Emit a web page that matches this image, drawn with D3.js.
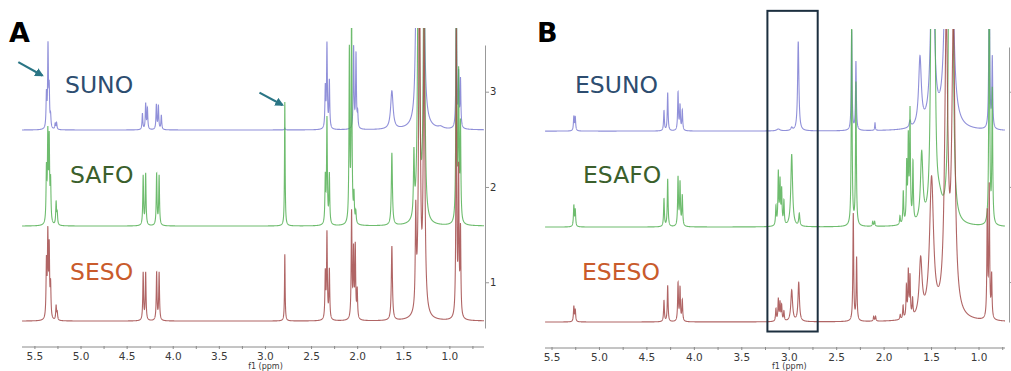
<!DOCTYPE html>
<html>
<head>
<meta charset="utf-8">
<script src="https://cdn.jsdelivr.net/npm/d3@7"></script>
<style>
  body { margin: 0; background: #fff; }
  text { font-family: "DejaVu Sans", sans-serif; }
</style>
</head>
<body>
<svg id="chart" width="1011" height="371"></svg>
<script>
// peak lists: [ppm, height (right-axis units), half width in ppm]
const SUNO = [
  [5.375, 0.35], [5.358, 0.85], [5.345, 0.38], [5.33, 0.12],
  [5.28, 0.06], [5.265, 0.07],
  [4.334, 0.17], [4.299, 0.27], [4.28, 0.22], [4.183, 0.26], [4.161, 0.25], [4.129, 0.15],
  [2.79, 0.02],
  [2.351, 0.42], [2.333, 0.88], [2.307, 0.5],
  [2.044, 0.86], [2.018, 0.78], [2.0, 0.15],
  [1.629, 0.4, 0.016],
  [1.37, 0.6, 0.01], [1.34, 4, 0.012], [1.29, 3, 0.012],
  [1.1, 0.02, 0.03],
  [0.93, 1.4], [0.905, 0.55], [0.885, 0.5]
];
const SAFO = [
  [5.375, 0.55], [5.36, 0.9], [5.345, 0.85], [5.33, 0.42],
  [5.27, 0.24], [5.258, 0.12],
  [4.326, 0.52], [4.299, 0.54], [4.18, 0.54], [4.153, 0.52],
  [2.79, 1.3, 0.004],
  [2.351, 0.48], [2.333, 1.1], [2.307, 0.52],
  [2.09, 1.8], [2.066, 2.3], [2.04, 0.28], [2.02, 0.12],
  [1.629, 0.76, 0.007],
  [1.39, 0.65, 0.006], [1.34, 4, 0.01], [1.28, 3, 0.01],
  [0.93, 3], [0.905, 1.5], [0.885, 1]
];
const SESO = [
  [5.375, 0.58], [5.36, 0.86], [5.345, 0.72], [5.33, 0.34],
  [5.27, 0.15], [5.258, 0.08],
  [4.326, 0.5], [4.299, 0.5], [4.18, 0.5], [4.153, 0.5],
  [2.79, 0.7, 0.004],
  [2.351, 0.48], [2.333, 0.9], [2.307, 0.52],
  [2.066, 1.12], [2.045, 0.7], [2.026, 0.75], [2.005, 0.3],
  [1.629, 0.78, 0.007],
  [1.37, 1.0, 0.006], [1.33, 4, 0.01], [1.28, 3, 0.01],
  [0.93, 3], [0.905, 1.5], [0.885, 0.9]
];
const ESUNO = [
  [5.27, 0.15], [5.255, 0.14],
  [4.32, 0.21], [4.281, 0.4], [4.172, 0.4], [4.151, 0.26], [4.127, 0.21],
  [3.115, 0.02, 0.02], [2.974, 0.03, 0.01],
  [2.905, 0.94, 0.008],
  [2.342, 1.05], [2.297, 0.72],
  [2.096, 0.08, 0.004],
  [1.727, 0.07, 0.01],
  [1.622, 0.72, 0.017],
  [1.49, 2.2, 0.02], [1.34, 3, 0.02], [1.29, 2.5, 0.02],
  [0.892, 2], [0.86, 0.74]
];
const ESAFO = [
  [5.27, 0.22], [5.255, 0.17],
  [4.32, 0.29], [4.281, 0.5], [4.172, 0.51], [4.151, 0.45], [4.127, 0.32],
  [3.14, 0.2], [3.115, 0.55], [3.097, 0.45], [3.08, 0.36], [3.056, 0.25],
  [2.974, 0.76, 0.011], [2.894, 0.13, 0.007],
  [2.342, 2.2], [2.297, 1.5],
  [2.12, 0.05], [2.10, 0.05],
  [1.833, 0.09], [1.798, 0.34], [1.762, 0.6], [1.745, 0.85], [1.727, 1.15], [1.696, 0.62],
  [1.604, 0.72, 0.015],
  [1.50, 3, 0.012], [1.47, 2.5, 0.012], [1.42, 0.2, 0.04], [1.31, 4, 0.012], [1.28, 3, 0.012],
  [0.892, 3], [0.86, 1.4]
];
const ESESO = [
  [5.27, 0.16], [5.255, 0.12],
  [4.32, 0.22], [4.281, 0.38], [4.172, 0.4], [4.151, 0.35], [4.127, 0.22],
  [3.14, 0.13], [3.115, 0.23], [3.097, 0.19], [3.08, 0.16], [3.056, 0.1],
  [2.974, 0.33, 0.011], [2.90, 0.41, 0.009],
  [2.325, 1.13], [2.29, 0.66],
  [2.11, 0.05], [2.09, 0.05],
  [1.83, 0.05], [1.80, 0.14], [1.765, 0.33], [1.745, 0.48], [1.727, 0.42], [1.70, 0.18],
  [1.615, 0.6, 0.018],
  [1.50, 1.45, 0.025],
  [1.345, 3, 0.02], [1.27, 3, 0.02],
  [0.913, 1.1], [0.892, 1.38], [0.867, 0.45]
];

const namesA = ['SUNO', 'SAFO', 'SESO'];
const namesB = ['ESUNO', 'ESAFO', 'ESESO'];
const offsetsA = [2.598, 1.59, 0.593];
const offsetsB = [2.586, 1.578, 0.58];
const ppmTicks = [5.5, 5.0, 4.5, 4.0, 3.5, 3.0, 2.5, 2.0, 1.5, 1.0];
const minorTicks = d3.range(0.75, 5.6, 0.25);
const intensityTicks = [1, 2, 3];
// arrows in panel A: [fromPpm, fromValue, toPpm, toValue]
const arrowsA = [[5.68, 3.31, 5.42, 3.17], [3.065, 2.99, 2.816, 2.86]];
// highlighted region in panel B: [ppmLeft, ppmRight, valueTop, valueBottom]
const boxB = [3.23, 2.70, 3.85, 0.48];

const lineColors = ['#7c7cd2', '#55b055', '#a24a4a'];
const labelColors = ['#2d4d70', '#3b5f2c', '#c95b2c'];

const svg = d3.select('#chart');

svg.append('defs').append('marker')
  .attr('id', 'arrowhead')
  .attr('viewBox', '0 0 10 10')
  .attr('refX', 8).attr('refY', 5)
  .attr('markerWidth', 4).attr('markerHeight', 4)
  .attr('orient', 'auto')
  .append('path')
  .attr('d', 'M0,0 L10,5 L0,10 z')
  .attr('fill', '#2a7585');

function lorentz(peaks, offset, p) {
  let v = offset;
  for (const pk of peaks) {
    const w = pk[2] || 0.005;
    const t = (p - pk[0]) / w;
    v += pk[1] / (1 + t * t);
  }
  return v;
}

function drawPanel(cfg) {
  const x = d3.scaleLinear().domain(cfg.ppmDomain).range(cfg.xRange);
  const y = d3.scaleLinear().domain(cfg.valDomain).range(cfg.yRange);
  const g = svg.append('g');

  g.append('clipPath').attr('id', cfg.id + '-clip')
    .append('rect')
    .attr('x', cfg.xRange[0]).attr('y', cfg.clipTop)
    .attr('width', cfg.xRange[1] - cfg.xRange[0])
    .attr('height', 345 - cfg.clipTop);

  const grid = d3.range(cfg.ppmDomain[1], cfg.ppmDomain[0], 0.0008);
  const line = d3.line().x(d => x(d[0])).y(d => y(d[1]));

  const spectra = g.append('g').attr('clip-path', `url(#${cfg.id}-clip)`);
  cfg.series.forEach((peaks, i) => {
    const pts = grid.map(p => [p, lorentz(peaks, cfg.offsets[i], p)]);
    spectra.append('path')
      .attr('d', line(pts))
      .attr('fill', 'none')
      .attr('stroke', lineColors[i])
      .attr('stroke-width', 1.1)
      .attr('stroke-opacity', 0.85);
  });

  // bottom ppm axis
  const ax = g.append('g').attr('transform', `translate(0,${cfg.axisY})`);
  ax.append('line')
    .attr('x1', cfg.xRange[0]).attr('x2', cfg.xRange[1])
    .attr('stroke', '#8a8a8a');
  ax.selectAll('.minor').data(minorTicks.filter(t => t < cfg.ppmDomain[0] && t > cfg.ppmDomain[1]))
    .enter().append('line')
    .attr('x1', d => x(d)).attr('x2', d => x(d))
    .attr('y1', -1).attr('y2', 2)
    .attr('stroke', '#8a8a8a');
  ax.selectAll('.lbl').data(ppmTicks).enter().append('text')
    .attr('x', d => x(d)).attr('y', 13)
    .attr('text-anchor', 'middle')
    .attr('font-size', 10.5).attr('fill', '#3a3a3a')
    .text(d => d.toFixed(1));
  ax.append('text')
    .attr('x', x(3.0)).attr('y', cfg.unitY)
    .attr('text-anchor', 'middle')
    .attr('font-size', 8).attr('fill', '#3a3a3a')
    .text('f1 (ppm)');

  // right intensity axis
  const ry = d3.scaleLinear().domain(cfg.axisDomain).range(cfg.axisRange);
  const yAxis = g.append('g')
    .attr('transform', `translate(${cfg.rightX},0)`)
    .call(d3.axisRight(ry).tickValues(intensityTicks).tickSize(4).tickSizeOuter(0)
      .tickFormat(cfg.showRightLabels ? d3.format('d') : ''));
  yAxis.select('.domain').attr('stroke', '#999');
  yAxis.selectAll('.tick line').attr('stroke', '#999');
  yAxis.selectAll('.tick text').attr('font-size', 10).attr('fill', '#333')
    .attr('font-family', '"DejaVu Sans", sans-serif').attr('x', 5);

  // sample names
  cfg.names.forEach((n, i) => {
    g.append('text')
      .attr('x', cfg.labelX[i]).attr('y', cfg.labelY[i])
      .attr('font-family', '"Noto Sans", sans-serif')
      .attr('font-size', 23.5)
      .attr('fill', labelColors[i])
      .text(n);
  });

  g.append('text')
    .attr('x', cfg.letterX).attr('y', 42)
    .attr('font-family', '"Liberation Sans", Arial, sans-serif')
    .attr('font-weight', 'bold').attr('font-size', 27)
    .attr('fill', '#000')
    .text(cfg.letter);

  return { x, y, g };
}

const A = drawPanel({
  id: 'a', letter: 'A', letterX: 9,
  ppmDomain: [5.64, 0.63], xRange: [22, 484],
  valDomain: [0.52, 3.49], yRange: [328, 45],
  axisDomain: [0.52, 3.49], axisRange: [328, 45],
  clipTop: 28, axisY: 347, unitY: 21.5, rightX: 485, showRightLabels: true,
  series: [SUNO, SAFO, SESO], offsets: offsetsA,
  names: namesA, labelX: [65, 70, 70], labelY: [93, 183, 280]
});

A.g.selectAll('.arrow').data(arrowsA).enter().append('line')
  .attr('x1', d => A.x(d[0])).attr('y1', d => A.y(d[1]))
  .attr('x2', d => A.x(d[2])).attr('y2', d => A.y(d[3]))
  .attr('stroke', '#2a7585').attr('stroke-width', 2.2)
  .attr('marker-end', 'url(#arrowhead)');

const B = drawPanel({
  id: 'b', letter: 'B', letterX: 537,
  ppmDomain: [5.574, 0.726], xRange: [545, 1005],
  valDomain: [0.58, 3.47], yRange: [322, 47],
  axisDomain: [0.58, 3.47], axisRange: [322, 47],
  clipTop: 29, axisY: 348, unitY: 20.5, rightX: 1009, showRightLabels: false,
  series: [ESUNO, ESAFO, ESESO], offsets: offsetsB,
  names: namesB, labelX: [575, 583, 582], labelY: [93, 183, 280]
});

B.g.append('rect')
  .attr('x', B.x(boxB[0])).attr('y', B.y(boxB[2]))
  .attr('width', B.x(boxB[1]) - B.x(boxB[0]))
  .attr('height', B.y(boxB[3]) - B.y(boxB[2]))
  .attr('fill', 'none')
  .attr('stroke', '#1c2f3f').attr('stroke-width', 2);
</script>
</body>
</html>
